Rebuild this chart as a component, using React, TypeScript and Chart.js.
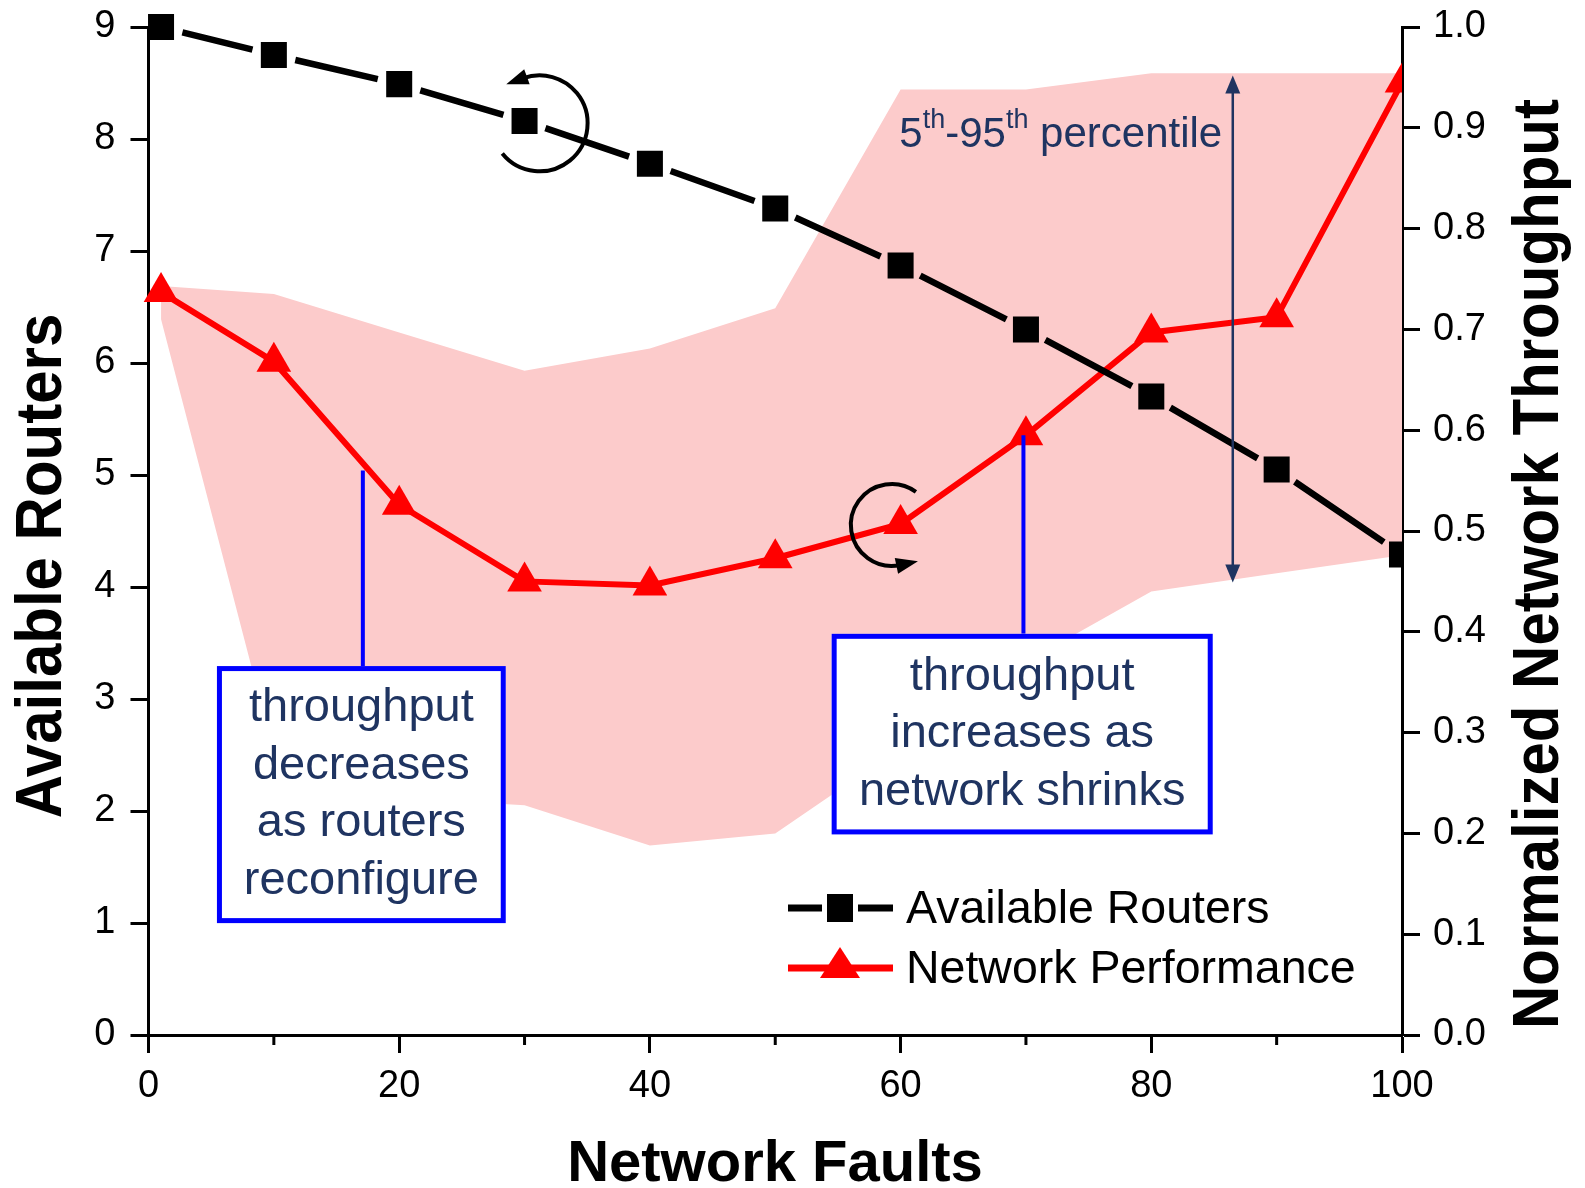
import React, { useEffect, useRef } from 'react';
import { Chart, registerables } from 'chart.js';

Chart.register(...registerables);

// ---------- data ----------
const networkFaults = [1, 10, 20, 30, 40, 50, 60, 70, 80, 90, 100];
const availableRouters = [9.0, 8.75, 8.49, 8.16, 7.78, 7.38, 6.87, 6.3, 5.7, 5.05, 4.29];
const networkPerformance = [0.737, 0.668, 0.526, 0.45, 0.446, 0.473, 0.507, 0.595, 0.697, 0.712, 0.945];
const performanceP95 = [0.743, 0.735, 0.697, 0.659, 0.681, 0.721, 0.938, 0.938, 0.954, 0.954, 0.954];
const performanceP5 = [0.71, 0.28, 0.235, 0.228, 0.188, 0.2, 0.285, 0.37, 0.44, 0.458, 0.476];
const xTicks = [0, 20, 40, 60, 80, 100];
const xMinorTicks = [10, 30, 50, 70, 90];
const leftTitle = 'Available Routers';
const rightTitle = 'Normalized Network Throughput';
const bottomTitle = 'Network Faults';
const legendLabels = ['Available Routers', 'Network Performance'];
const leftNote = ['throughput', 'decreases', 'as routers', 'reconfigure'];
const rightNote = ['throughput', 'increases as', 'network shrinks'];

const FONT = "'Liberation Sans', Arial, Helvetica, sans-serif";
const NAVY = '#1f3461';
const BLUE = '#0000ff';
const PINK = 'rgb(252,203,203)';
const RED = '#ff0000';

const toPts = (ys: number[]) => ys.map((y, i) => ({ x: networkFaults[i], y }));

export default function App() {
  const ref = useRef<HTMLCanvasElement>(null);

  useEffect(() => {
    const canvas = ref.current!;
    const BLACK_IDX = 3;

    const gappedLine = {
      id: 'gappedLine',
      beforeDatasetDraw(chart: any, args: any) {
        if (args.index !== BLACK_IDX) return;
        const meta = chart.getDatasetMeta(args.index);
        const ctx = chart.ctx;
        const a = chart.chartArea;
        ctx.save();
        ctx.beginPath();
        ctx.rect(a.left - 40, a.top - 40, a.right - a.left + 40, a.bottom - a.top + 80);
        ctx.clip();
        ctx.strokeStyle = '#000';
        ctx.lineWidth = 6.5;
        ctx.lineCap = 'butt';
        const G = 22;
        ctx.beginPath();
        for (let i = 0; i < meta.data.length - 1; i++) {
          const p0 = meta.data[i];
          const p1 = meta.data[i + 1];
          const dx = p1.x - p0.x;
          const dy = p1.y - p0.y;
          const len = Math.hypot(dx, dy);
          const ux = dx / len;
          const uy = dy / len;
          ctx.moveTo(p0.x + ux * G, p0.y + uy * G);
          ctx.lineTo(p1.x - ux * G, p1.y - uy * G);
        }
        ctx.stroke();
        ctx.restore();
      },
    };

    const arrowHead = (ctx: CanvasRenderingContext2D, tx: number, ty: number, dx: number, dy: number, len: number, hw: number, color: string) => {
      const l = Math.hypot(dx, dy);
      const ux = dx / l, uy = dy / l;
      const bx = tx - ux * len, by = ty - uy * len;
      ctx.fillStyle = color;
      ctx.beginPath();
      ctx.moveTo(tx, ty);
      ctx.lineTo(bx - uy * hw, by + ux * hw);
      ctx.lineTo(bx + uy * hw, by - ux * hw);
      ctx.closePath();
      ctx.fill();
    };

    const curvedArrow = (ctx: CanvasRenderingContext2D, cx: number, cy: number, r: number, a0: number, a1: number) => {
      const s = (a0 * Math.PI) / 180;
      const e = (a1 * Math.PI) / 180;
      ctx.strokeStyle = '#000';
      ctx.lineWidth = 4;
      ctx.beginPath();
      ctx.arc(cx, cy, r, s, e, true);
      ctx.stroke();
      const ex = cx + r * Math.cos(e);
      const ey = cy + r * Math.sin(e);
      const tdx = Math.sin(e);
      const tdy = -Math.cos(e);
      arrowHead(ctx, ex + tdx * 18, ey + tdy * 18, tdx, tdy, 22, 8, '#000');
    };

    const noteBox = (ctx: CanvasRenderingContext2D, x0: number, y0: number, x1: number, y1: number, lines: string[]) => {
      const lw = 5;
      ctx.fillStyle = '#fff';
      ctx.fillRect(x0, y0, x1 - x0, y1 - y0);
      ctx.strokeStyle = BLUE;
      ctx.lineWidth = lw;
      ctx.strokeRect(x0 + lw / 2, y0 + lw / 2, x1 - x0 - lw, y1 - y0 - lw);
      ctx.fillStyle = NAVY;
      ctx.font = `47px ${FONT}`;
      ctx.textAlign = 'center';
      ctx.textBaseline = 'middle';
      const cx = (x0 + x1) / 2;
      const cy = (y0 + y1) / 2;
      const sp = 57.5;
      lines.forEach((t, i) => {
        ctx.fillText(t, cx, cy + (i - (lines.length - 1) / 2) * sp);
      });
    };

    const annotations = {
      id: 'annotations',
      afterDatasetsDraw(chart: any) {
        const ctx: CanvasRenderingContext2D = chart.ctx;
        const xs = chart.scales.x;
        const yl = chart.scales.yL;
        const yr = chart.scales.yR;
        const px = (v: number) => xs.getPixelForValue(v);
        const pr = (v: number) => yr.getPixelForValue(v);
        const pl = (v: number) => yl.getPixelForValue(v);
        ctx.save();

        // leader lines
        ctx.strokeStyle = BLUE;
        ctx.lineWidth = 4;
        ctx.beginPath();
        ctx.moveTo(px(17.1), pr(0.56));
        ctx.lineTo(px(17.1), pr(0.366));
        ctx.moveTo(px(69.8), pr(0.595));
        ctx.lineTo(px(69.8), pr(0.398));
        ctx.stroke();

        noteBox(ctx, px(5.46), pr(0.366), px(28.5), pr(0.111), leftNote);
        noteBox(ctx, px(54.5), pr(0.398), px(84.9), pr(0.199), rightNote);

        // double arrow for percentile band
        const ax = px(86.5);
        const yTop = pr(0.952);
        const yBot = pr(0.449);
        ctx.strokeStyle = NAVY;
        ctx.lineWidth = 2.5;
        ctx.beginPath();
        ctx.moveTo(ax, yTop + 10);
        ctx.lineTo(ax, yBot - 10);
        ctx.stroke();
        arrowHead(ctx, ax, yTop, 0, -1, 18, 7.5, NAVY);
        arrowHead(ctx, ax, yBot, 0, 1, 18, 7.5, NAVY);

        // percentile label with superscripts
        ctx.fillStyle = NAVY;
        ctx.textAlign = 'left';
        ctx.textBaseline = 'alphabetic';
        let tx = px(59.9);
        const base = pr(0.881);
        const parts: [string, boolean][] = [['5', false], ['th', true], ['-95', false], ['th', true], [' percentile', false]];
        parts.forEach(([t, sup]) => {
          ctx.font = sup ? `27px ${FONT}` : `42px ${FONT}`;
          ctx.fillText(t, tx, sup ? base - 19 : base);
          tx += ctx.measureText(t).width;
        });

        // curved arrows
        curvedArrow(ctx, px(31.2), pl(8.14), 48, 141, -110);
        curvedArrow(ctx, px(59.3), pr(0.506), 41, -54, 78);

        ctx.restore();
      },
      afterDraw(chart: any) {
        const ctx: CanvasRenderingContext2D = chart.ctx;
        const xs = chart.scales.x;
        const a = chart.chartArea;
        ctx.save();
        // minor x ticks
        ctx.strokeStyle = '#000';
        ctx.lineWidth = 3;
        ctx.beginPath();
        xMinorTicks.forEach((v) => {
          const x = xs.getPixelForValue(v);
          ctx.moveTo(x, a.bottom);
          ctx.lineTo(x, a.bottom + 10);
        });
        ctx.stroke();

        // legend
        const lx0 = 788, lx1 = 893, mx = 840;
        const r1 = 908, r2 = 968;
        ctx.lineWidth = 7;
        ctx.strokeStyle = '#000';
        ctx.beginPath();
        ctx.moveTo(lx0, r1);
        ctx.lineTo(mx - 18, r1);
        ctx.moveTo(mx + 18, r1);
        ctx.lineTo(lx1, r1);
        ctx.stroke();
        ctx.fillStyle = '#000';
        ctx.fillRect(mx - 13, r1 - 14, 26, 28);
        ctx.strokeStyle = RED;
        ctx.beginPath();
        ctx.moveTo(lx0, r2);
        ctx.lineTo(lx1, r2);
        ctx.stroke();
        ctx.fillStyle = RED;
        ctx.beginPath();
        ctx.moveTo(mx, r2 - 21);
        ctx.lineTo(mx + 20, r2 + 10);
        ctx.lineTo(mx - 20, r2 + 10);
        ctx.closePath();
        ctx.fill();
        ctx.fillStyle = '#000';
        ctx.font = `46.5px ${FONT}`;
        ctx.textAlign = 'left';
        ctx.textBaseline = 'alphabetic';
        ctx.fillText(legendLabels[0], 906, 923);
        ctx.fillText(legendLabels[1], 906, 983);

        // axis titles
        ctx.font = `bold 60px ${FONT}`;
        ctx.textAlign = 'center';
        ctx.save();
        ctx.translate(61, 566);
        ctx.rotate(-Math.PI / 2);
        ctx.scale(1, 1.07);
        ctx.fillText(leftTitle, 0, 0);
        ctx.restore();
        ctx.save();
        ctx.translate(1558, 564);
        ctx.rotate(-Math.PI / 2);
        ctx.scale(1, 1.07);
        ctx.fillText(rightTitle, 0, 0);
        ctx.restore();
        ctx.font = `bold 58px ${FONT}`;
        ctx.fillText(bottomTitle, 775, 1181);
        ctx.restore();
      },
    };

    const tickFont = { family: FONT, size: 38 };
    const axisGrid = { drawOnChartArea: false, drawTicks: true, tickLength: 18, tickWidth: 3, tickColor: '#000' };
    const axisBorder = { display: true, width: 3, color: '#000' };
    const clip = { left: 40, top: 40, right: 0, bottom: 40 };
    const noPad = (s: any) => {
      s.paddingTop = 0;
      s.paddingBottom = 0;
      s.paddingLeft = 0;
      s.paddingRight = 0;
    };

    const chart = new Chart(canvas, {
      type: 'line',
      data: {
        datasets: [
          {
            label: '95th',
            data: toPts(performanceP95),
            yAxisID: 'yR',
            borderWidth: 0,
            pointRadius: 0,
            backgroundColor: PINK,
            borderColor: PINK,
            fill: '+1',
            tension: 0,
            order: 4,
            clip,
          },
          {
            label: '5th',
            data: toPts(performanceP5),
            yAxisID: 'yR',
            borderWidth: 0,
            pointRadius: 0,
            borderColor: PINK,
            fill: false,
            tension: 0,
            order: 4,
            clip,
          },
          {
            label: 'Network Performance',
            data: toPts(networkPerformance),
            yAxisID: 'yR',
            borderColor: RED,
            borderWidth: 6,
            pointStyle: 'triangle',
            pointRadius: 20,
            pointBackgroundColor: RED,
            pointBorderWidth: 0,
            tension: 0,
            order: 2,
            clip,
          },
          {
            label: 'Available Routers',
            data: toPts(availableRouters),
            yAxisID: 'yL',
            showLine: false,
            pointStyle: 'rect',
            pointRadius: 18.4,
            pointBackgroundColor: '#000',
            pointBorderWidth: 0,
            order: 1,
            clip,
          },
        ],
      },
      options: {
        animation: false,
        responsive: false,
        devicePixelRatio: 1,
        layout: { padding: { top: 27, left: 0, right: 0, bottom: 0 } },
        plugins: { legend: { display: false }, tooltip: { enabled: false } },
        scales: {
          x: {
            type: 'linear',
            position: 'bottom',
            min: 0,
            max: 100,
            afterBuildTicks: (s: any) => {
              s.ticks = xTicks.map((v) => ({ value: v }));
            },
            ticks: { font: tickFont, color: '#000', padding: 11, maxRotation: 0, autoSkip: false },
            grid: axisGrid,
            border: axisBorder,
            afterFit: (s: any) => {
              s.height = 153;
              noPad(s);
            },
          },
          yL: {
            type: 'linear',
            position: 'left',
            min: 0,
            max: 9,
            ticks: { stepSize: 1, font: tickFont, color: '#000', padding: 15 },
            grid: axisGrid,
            border: axisBorder,
            afterFit: (s: any) => {
              s.width = 148.5;
              noPad(s);
            },
          },
          yR: {
            type: 'linear',
            position: 'right',
            min: 0,
            max: 1,
            ticks: {
              stepSize: 0.1,
              font: tickFont,
              color: '#000',
              padding: 13,
              callback: (v: any) => Number(v).toFixed(1),
            },
            grid: axisGrid,
            border: axisBorder,
            afterFit: (s: any) => {
              s.width = 183;
              noPad(s);
            },
          },
        },
      } as any,
      plugins: [gappedLine, annotations],
    });

    return () => chart.destroy();
  }, []);

  return (
    <div style={{ position: 'absolute', left: 0, top: 0, width: 1585, height: 1188, background: '#fff' }}>
      <canvas ref={ref} width={1585} height={1188} style={{ display: 'block' }} />
    </div>
  );
}
